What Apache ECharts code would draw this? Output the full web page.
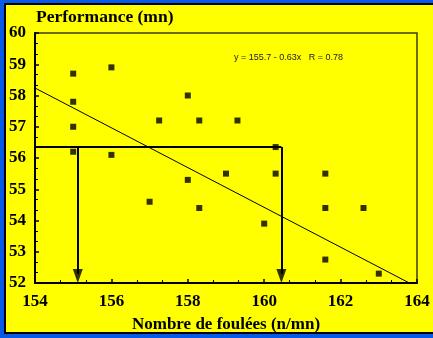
<!DOCTYPE html>
<html>
<head>
<meta charset="utf-8">
<script src="https://cdn.jsdelivr.net/npm/echarts@6/dist/echarts.min.js"></script>
<style>
html,body{margin:0;padding:0;background:#ffff00;overflow:hidden;width:100%;height:100%;}
.b{position:absolute;}
#chart{position:absolute;left:0;top:0;width:433px;height:338px;}
</style>
</head>
<body>
<div class="b" style="left:0;top:0;right:0;height:3px;background:#0a5ae8"></div>
<div class="b" style="left:0;top:0;width:4px;height:338px;background:#0a5ae8"></div>
<div class="b" style="left:0;top:334px;right:0;height:4px;background:#0a5ae8"></div>
<div class="b" style="left:4px;top:3px;right:0;height:2px;background:#000"></div>
<div class="b" style="left:4px;top:3px;width:2px;height:331px;background:#000"></div>
<div class="b" style="left:4px;top:332px;right:0;height:2px;background:#000"></div>
<div id="chart"></div>
<script>
// Data
var strideRate = [155, 155, 155, 155, 156, 156, 157.25, 158, 158.3, 159.3, 160.3, 157, 158, 158.3, 159, 160.3, 161.6, 160, 161.6, 162.6, 161.6, 163];
var performance = [58.7, 57.8, 57.0, 56.2, 58.9, 56.1, 57.2, 58.0, 57.2, 57.2, 56.35, 54.6, 55.3, 54.4, 55.5, 55.5, 55.5, 53.9, 54.4, 54.4, 52.75, 52.3];
var regressionX = [154, 163.8];
var regressionY = [58.24, 52];
var guideY = 56.35;
var guideX = [155.12, 160.45];
var xTicks = [154, 156, 158, 160, 162, 164];
var yTicks = [52, 53, 54, 55, 56, 57, 58, 59, 60];
var equationText = 'y = 155.7 - 0.63x   R = 0.78';

var chart = echarts.init(document.getElementById('chart'));
var serif = '"Liberation Serif", "DejaVu Serif", serif';
var points = strideRate.map(function (x, i) { return [x, performance[i]]; });
var regLine = regressionX.map(function (x, i) { return [x, regressionY[i]]; });

chart.setOption({
  animation: false,
  backgroundColor: 'transparent',
  grid: { left: 35, right: 16, top: 33, bottom: 55, outerBoundsMode: 'none', containLabel: false, show: true, borderColor: '#3d3d00', borderWidth: 1.5, backgroundColor: 'transparent' },
  title: {
    text: 'Performance (mn)', left: 31, top: 3,
    textStyle: { fontFamily: serif, fontWeight: 'bold', fontSize: 17.5, color: '#000' }
  },
  xAxis: {
    type: 'value', min: xTicks[0], max: xTicks[xTicks.length - 1], interval: 2,
    name: 'Nombre de foulées (n/mn)', nameLocation: 'middle', nameGap: 33, nameMoveOverlap: false,
    nameTextStyle: { fontFamily: serif, fontWeight: 'bold', fontSize: 17, color: '#000' },
    axisLine: { lineStyle: { color: '#000', width: 2 } },
    axisTick: { inside: true, length: 4, lineStyle: { color: '#000', width: 1.5 } },
    minorTick: { show: true, splitNumber: 3, length: 3, lineStyle: { color: '#000', width: 1 } },
    splitLine: { show: false },
    axisLabel: { fontFamily: serif, fontWeight: 'bold', fontSize: 17, color: '#000', margin: 10 }
  },
  yAxis: {
    type: 'value', min: yTicks[0], max: yTicks[yTicks.length - 1], interval: 1,
    axisLine: { lineStyle: { color: '#000', width: 2 } },
    axisTick: { inside: true, length: 4, lineStyle: { color: '#000', width: 1.5 } },
    minorTick: { show: true, splitNumber: 3, length: 3, lineStyle: { color: '#000', width: 1 } },
    splitLine: { show: false },
    axisLabel: { fontFamily: serif, fontWeight: 'bold', fontSize: 17, color: '#000', margin: 9 }
  },
  graphic: [{
    type: 'text', left: 234, top: 53,
    style: { text: equationText, fontFamily: '"Liberation Sans", Arial, sans-serif', fontSize: 9, fill: '#222' }
  }],
  series: [
    {
      type: 'line', data: regLine, symbol: 'none',
      lineStyle: { color: '#000', width: 1 }, z: 3
    },
    {
      type: 'lines', coordinateSystem: 'cartesian2d', polyline: false,
      symbol: ['none', 'none'],
      lineStyle: { color: '#000', width: 2, opacity: 1 },
      data: [{ coords: [[xTicks[0], guideY], [guideX[1], guideY]] }], z: 4
    },
    {
      type: 'lines', coordinateSystem: 'cartesian2d', polyline: false,
      symbol: ['none', 'none'],
      lineStyle: { color: '#000', width: 2, opacity: 1 },
      data: guideX.map(function (x) { return { coords: [[x, guideY], [x, yTicks[0] + 0.3]] }; }), z: 4
    },
    {
      type: 'scatter', data: guideX.map(function (x) { return [x, yTicks[0]]; }),
      symbol: 'path://M0,0 L10,0 L5,14 Z', symbolSize: [10, 14], symbolOffset: [0, -7],
      itemStyle: { color: '#000' }, z: 5, silent: true
    },
    {
      type: 'scatter', data: points, symbol: 'rect', symbolSize: 6,
      itemStyle: { color: '#000' }, z: 5
    }
  ]
});
</script>
</body>
</html>
